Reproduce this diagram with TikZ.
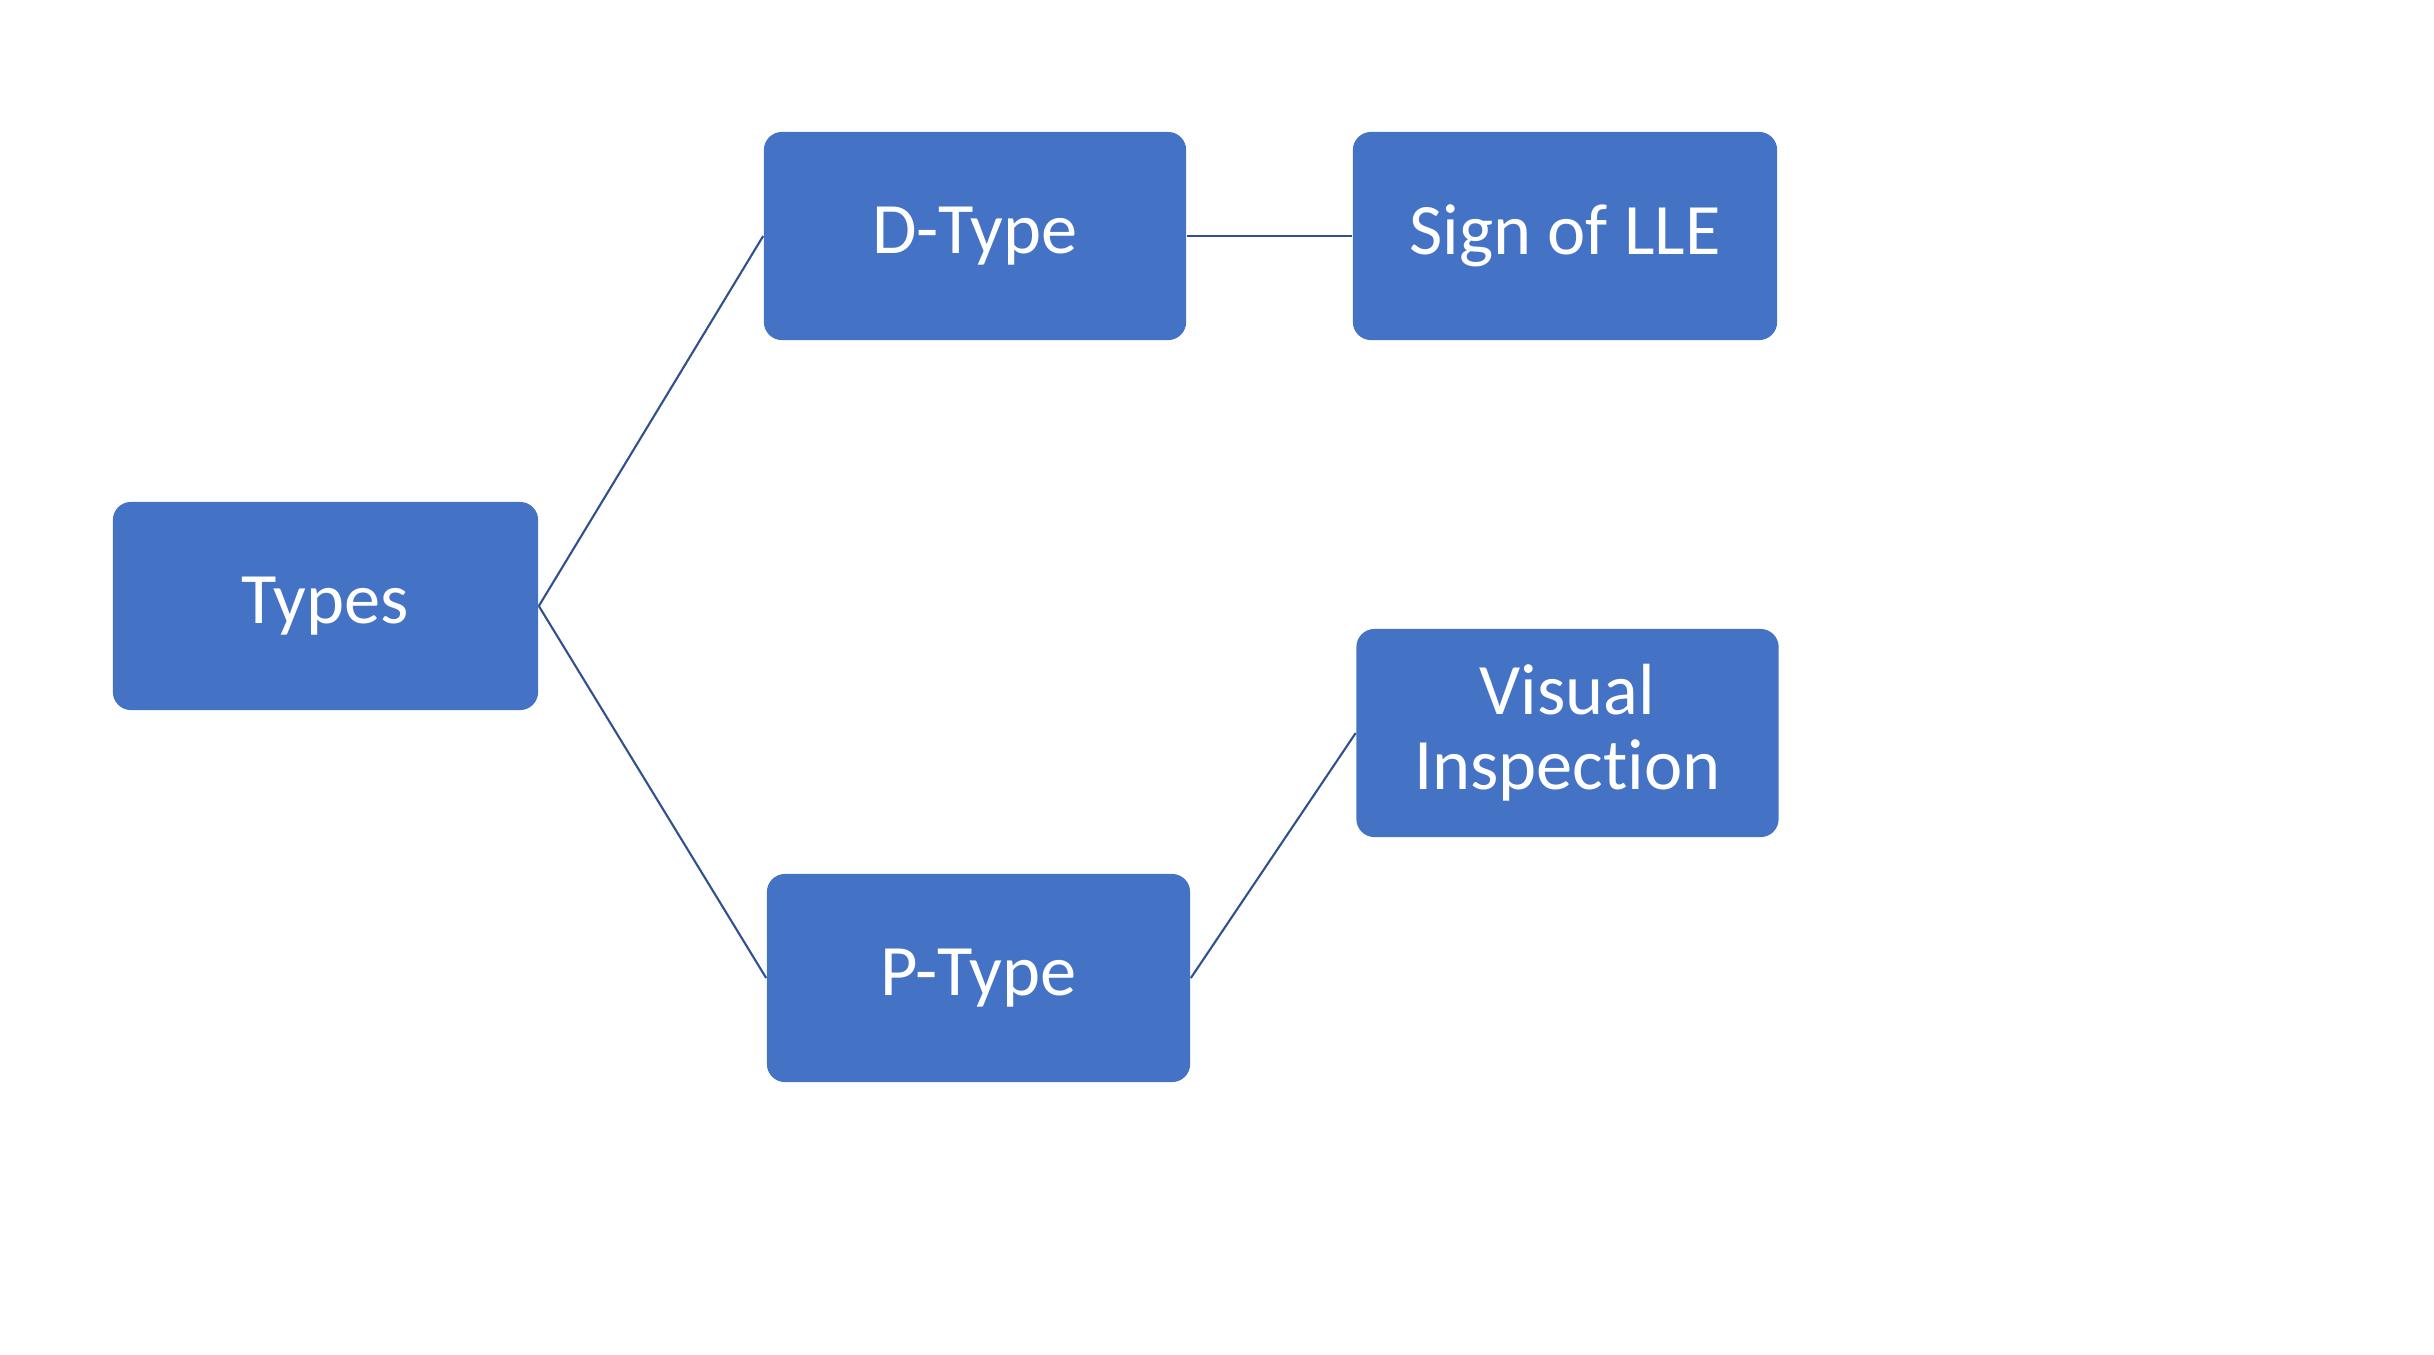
\documentclass[tikz,border=0pt]{standalone}
\usepackage{fontspec}
\setmainfont{Carlito}[RawFeature={-liga;-calt;-clig;-dlig}]
\begin{document}
\begin{tikzpicture}[x=0.01cm,y=-0.01cm,
  box/.style={draw=none,fill=boxblue,rounded corners=0.18cm,minimum width=4.22cm,minimum height=2.08cm,
    text=white,align=center,inner sep=0pt,font=\fontsize{20.6}{21.3}\selectfont},
  link/.style={draw=lineblue,line width=0.6pt}]
\definecolor{boxblue}{HTML}{4472C4}
\definecolor{lineblue}{HTML}{2F528F}
\useasboundingbox (0,0) rectangle (2434,1354);
\node[box,minimum width=4.25cm] (types) at (325.5,606) {Types};
\node[box] (dtype) at (975,236) {D-Type};
\node[box,minimum width=4.24cm] (sign) at (1565,236) {Sign of LLE};
\node[box] (visual) at (1567.5,733) {Visual\\Inspect\kern0pt ion};
\node[box,minimum width=4.23cm] (ptype) at (978.5,978) {P-Type};
\draw[link] (types.east) -- (dtype.west);
\draw[link] (types.east) -- (ptype.west);
\draw[link] (dtype.east) -- (sign.west);
\draw[link] (ptype.east) -- (visual.west);
\end{tikzpicture}
\end{document}
